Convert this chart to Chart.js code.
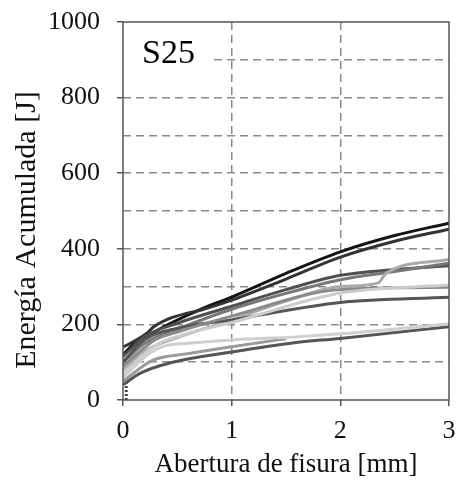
<!DOCTYPE html>
<html><head><meta charset="utf-8">
<script src="https://cdn.jsdelivr.net/npm/chart.js@4"></script>
<style>html,body{margin:0;padding:0;background:#fff}#c{display:block}</style>
</head><body>
<canvas id="c" width="458" height="484"></canvas>
<script>
const xTicks = [0, 1, 2, 3];
const yTicks = [0, 200, 400, 600, 800, 1000];
const panelLabel = "S25";
const xTitle = "Abertura de fisura [mm]";
const yTitle = "Energía Acumulada [J]";

const xA = [0, 0.1, 0.3, 0.6, 0.8, 1, 1.5, 2, 2.5, 3];
const yA = [120, 148, 182, 225, 250, 272, 335, 392, 435, 468];
const xB = [0, 0.1, 0.22, 0.28, 0.43, 0.6, 0.72, 1, 1.5, 2, 2.5, 3];
const yB = [140, 155, 177, 193, 216, 230, 238, 264, 320, 378, 420, 452];
const xC = [0, 0.2, 0.5, 1, 1.5, 2, 2.35, 2.42, 3];
const yC = [80, 130, 165, 212, 262, 300, 310, 335, 372];
const xD = [0, 0.2, 0.5, 1, 1.5, 2, 2.5, 3];
const yD = [100, 150, 187, 240, 282, 318, 340, 362];
const xE = [0, 0.2, 0.5, 1, 1.5, 2, 2.5, 3];
const yE = [115, 168, 203, 248, 292, 330, 345, 355];
const xF = [0, 0.3, 0.5, 1, 2, 3];
const yF = [70, 145, 168, 205, 283, 304];
const xG = [0, 0.3, 0.5, 1, 2, 3];
const yG = [90, 160, 180, 222, 292, 298];
const xH = [0, 0.2, 0.5, 1, 2, 3];
const yH = [100, 160, 190, 212, 258, 272];
const xI = [0, 0.25, 0.37, 0.6, 1, 1.6, 2, 3];
const yI = [60, 125, 142, 150, 159, 167, 175, 202];
const xK = [0, 0.28, 0.58, 1, 1.5];
const yK = [50, 106, 122, 141, 162];
const xJ = [0, 0.16, 0.43, 1, 1.56, 2, 3];
const yJ = [40, 71, 98, 127, 151, 163, 194];
const xZ = [0.03, 0.03, 0.03];
const yZ = [0, 30, 60];

const curves = [
  [xI, yI, '#cfcfcf'], [xK, yK, '#9a9a9a'], [xJ, yJ, '#555555'],
  [xF, yF, '#cccccc'], [xG, yG, '#8a8a8a'], [xH, yH, '#555555'],
  [xC, yC, '#aaaaaa'], [xD, yD, '#777777'], [xE, yE, '#505050'],
  [xB, yB, '#333333'], [xA, yA, '#151515']
];
const datasets = curves.map(([xs, ys, col]) => ({
  data: xs.map((x, i) => ({x, y: ys[i]})),
  borderColor: col, borderWidth: 3, pointRadius: 0, fill: false,
  cubicInterpolationMode: 'monotone'
}));
datasets.push({
  data: xZ.map((x, i) => ({x, y: yZ[i]})),
  borderColor: '#444', borderWidth: 3, borderDash: [2, 2], pointRadius: 0, fill: false
});

const serif = "'Liberation Serif', 'DejaVu Serif', serif";

const framePlugin = {
  id: 'frame',
  beforeDatasetsDraw(chart) {
    const {ctx, chartArea: a} = chart;
    ctx.save();
    ctx.fillStyle = '#fff';
    ctx.fillRect(a.left + 1, a.top + 1, 89, 52);
    ctx.fillStyle = '#000';
    ctx.font = "34px " + serif;
    ctx.textBaseline = 'alphabetic';
    ctx.fillText(panelLabel, a.left + 19, a.top + 41);
    ctx.restore();
  },
  afterDraw(chart) {
    const {ctx, chartArea: a} = chart;
    ctx.save();
    ctx.strokeStyle = '#555';
    ctx.lineWidth = 1.5;
    ctx.setLineDash([]);
    ctx.strokeRect(a.left, a.top, a.right - a.left, a.bottom - a.top);
    ctx.translate(27, 230);
    ctx.rotate(-Math.PI / 2);
    ctx.fillStyle = '#111';
    ctx.font = "30px " + serif;
    ctx.textAlign = 'center';
    ctx.textBaseline = 'middle';
    ctx.fillText(yTitle, 0, 0);
    ctx.restore();
  }
};

new Chart(document.getElementById('c'), {
  type: 'line',
  data: {datasets},
  options: {
    responsive: false, animation: false,
    layout: {padding: {left: 0, right: 9, top: 22, bottom: 0}},
    plugins: {legend: {display: false}, tooltip: {enabled: false}},
    scales: {
      x: {
        type: 'linear', min: 0, max: 3,
        afterFit: s => { s.height = 84; s.paddingLeft = 0; s.paddingRight = 0; },
        afterBuildTicks: s => { s.ticks = xTicks.map(v => ({value: v})); },
        grid: {
          color: c => (c.tick && (c.tick.value === 0 || c.tick.value === 3)) ? 'rgba(0,0,0,0)' : '#8a8a8a',
          lineWidth: 1.5, tickColor: '#555', tickLength: 6, tickBorderDash: [], drawTicks: true
        },
        border: {display: false, dash: [8, 5]},
        ticks: {color: '#111', font: {family: serif, size: 26}, padding: 10},
        title: {display: true, text: xTitle, color: '#111', font: {family: serif, size: 27}, padding: {top: 0, bottom: 3}}
      },
      y: {
        min: 0, max: 1000,
        afterFit: s => { s.width = 123; s.paddingTop = 0; s.paddingBottom = 0; },
        afterBuildTicks: s => { const t = []; for (let v = 0; v <= 1000; v += 100) t.push({value: v}); s.ticks = t; },
        grid: {
          color: c => (c.tick && (c.tick.value === 0 || c.tick.value === 1000)) ? 'rgba(0,0,0,0)' : '#8a8a8a',
          lineWidth: 1.5,
          tickColor: c => (c.tick && c.tick.value % 200 === 0) ? '#555' : 'rgba(0,0,0,0)',
          tickLength: 6, tickBorderDash: []
        },
        border: {display: false, dash: [8, 5]},
        ticks: {
          color: '#111', font: {family: serif, size: 26}, padding: 17,
          callback: v => (yTicks.includes(v) ? String(v) : '')
        },
        title: {display: false, text: yTitle}
      }
    }
  },
  plugins: [framePlugin]
});
</script>
</body></html>
